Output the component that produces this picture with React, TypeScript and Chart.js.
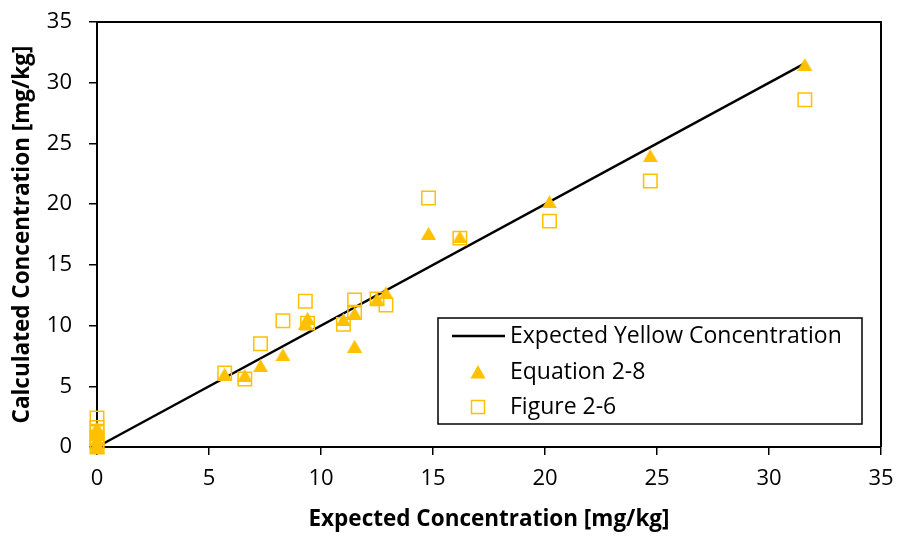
import React, { useEffect, useRef } from 'react';
import { Chart, registerables } from 'chart.js';

Chart.register(...registerables);

// ---- data ----
const expectedX = [0, 0, 0, 0, 0, 0, 5.7, 6.6, 7.3, 8.3, 9.3, 9.4, 11.0, 11.5, 11.5, 12.5, 12.9, 14.8, 16.2, 20.2, 24.7, 31.6];
const equation28 = [0.0, 0.3, 0.6, 1.0, 1.3, 1.6, 6.0, 5.9, 6.7, 7.6, 10.2, 10.6, 10.5, 11.0, 8.3, 12.2, 12.7, 17.6, 17.3, 20.2, 24.0, 31.5];
const figure26 = [0.0, 0.4, 0.8, 1.2, 1.6, 2.4, 6.1, 5.6, 8.5, 10.4, 12.0, 10.2, 10.1, 12.1, 11.1, 12.2, 11.7, 20.5, 17.2, 18.6, 21.9, 28.6];
const expectedLineX = [0, 31.6];
const expectedLineY = [0, 31.6];
const axisTicks = [0, 5, 10, 15, 20, 25, 30, 35];
const seriesNames = ['Expected Yellow Concentration', 'Equation 2-8', 'Figure 2-6'];
const xTitle = 'Expected Concentration [mg/kg]';
const yTitle = 'Calculated Concentration [mg/kg]';

const YELLOW = '#FFC000';
const FONT = "'Open Sans', sans-serif";

function makeTriangle(color: string, w = 15, h = 13) {
  const c = document.createElement('canvas');
  c.width = w;
  c.height = h;
  const ctx = c.getContext('2d')!;
  ctx.fillStyle = color;
  ctx.beginPath();
  ctx.moveTo(w / 2, 0);
  ctx.lineTo(w, h);
  ctx.lineTo(0, h);
  ctx.closePath();
  ctx.fill();
  return c;
}

const frameLegendPlugin = {
  id: 'frameLegend',
  afterDraw(chart: any) {
    const { ctx, chartArea } = chart;
    ctx.save();
    // top & right frame lines
    ctx.strokeStyle = '#000';
    ctx.lineWidth = 2;
    ctx.beginPath();
    ctx.moveTo(chartArea.left, chartArea.top);
    ctx.lineTo(chartArea.right, chartArea.top);
    ctx.lineTo(chartArea.right, chartArea.bottom);
    ctx.stroke();

    // legend box
    const bx = 438, by = 318, bw = 424, bh = 106;
    ctx.fillStyle = '#fff';
    ctx.fillRect(bx, by, bw, bh);
    ctx.lineWidth = 1.5;
    ctx.strokeStyle = '#000';
    ctx.strokeRect(bx, by, bw, bh);

    const rows = [336, 372, 407];
    const symX = 478;
    const textX = 510;
    // line sample
    ctx.lineWidth = 2.5;
    ctx.beginPath();
    ctx.moveTo(452, rows[0]);
    ctx.lineTo(505, rows[0]);
    ctx.stroke();
    // triangle sample
    ctx.fillStyle = YELLOW;
    ctx.beginPath();
    ctx.moveTo(symX, rows[1] - 7);
    ctx.lineTo(symX + 7.5, rows[1] + 6.5);
    ctx.lineTo(symX - 7.5, rows[1] + 6.5);
    ctx.closePath();
    ctx.fill();
    // square sample
    ctx.strokeStyle = YELLOW;
    ctx.lineWidth = 1.5;
    ctx.strokeRect(symX - 6.5, rows[2] - 6.5, 13, 13);

    ctx.fillStyle = '#000';
    ctx.font = `23px ${FONT}`;
    ctx.textBaseline = 'middle';
    ctx.textAlign = 'left';
    seriesNames.forEach((n, i) => ctx.fillText(n, textX, rows[i]));
    ctx.restore();
  },
};

export default function App() {
  const ref = useRef<HTMLCanvasElement>(null);

  useEffect(() => {
    const tri = makeTriangle(YELLOW);
    const axisCommon = (title: string, isX: boolean) => ({
      type: 'linear' as const,
      min: 0,
      max: 35,
      afterBuildTicks: (scale: any) => {
        scale.ticks = axisTicks.map((v) => ({ value: v }));
      },
      afterFit: (scale: any) => {
        if (isX) {
          scale.height = 89;
          scale.paddingLeft = 8;
          scale.paddingRight = 8;
        } else {
          scale.width = 97;
          scale.paddingTop = 8;
          scale.paddingBottom = 8;
        }
      },
      grid: {
        drawOnChartArea: false,
        drawTicks: true,
        tickLength: 8,
        color: '#000',
        lineWidth: 1.5,
      },
      border: { display: true, color: '#000', width: 2 },
      ticks: {
        color: '#000',
        font: { family: FONT, size: 22 },
        padding: isX ? 11 : 17,
        maxRotation: 0,
        autoSkip: false,
      },
      title: {
        display: true,
        text: title,
        color: '#000',
        font: { family: FONT, size: 22.5, weight: 'bold' as const },
        padding: isX ? { top: 0, bottom: 2.5 } : { top: 9, bottom: 0 },
      },
    });

    const chart = new Chart(ref.current!, {
      type: 'scatter',
      data: {
        datasets: [
          {
            label: seriesNames[1],
            data: expectedX.map((x, i) => ({ x, y: equation28[i] })),
            pointStyle: tri as any,
            pointRadius: 7,
            pointHoverRadius: 7,
            backgroundColor: YELLOW,
            borderColor: YELLOW,
            borderWidth: 0,
            clip: false as any,
            order: 0,
          },
          {
            label: seriesNames[2],
            data: expectedX.map((x, i) => ({ x, y: figure26[i] })),
            pointStyle: 'rect',
            pointRadius: 9.5,
            pointHoverRadius: 9.5,
            backgroundColor: 'rgba(0,0,0,0)',
            borderColor: YELLOW,
            borderWidth: 1.5,
            clip: false as any,
            order: 1,
          },
          {
            label: seriesNames[0],
            data: expectedLineX.map((x, i) => ({ x, y: expectedLineY[i] })),
            showLine: true,
            borderColor: '#000',
            borderWidth: 2.5,
            pointRadius: 0,
            pointHoverRadius: 0,
            clip: false as any,
            order: 2,
          },
        ],
      },
      options: {
        responsive: false,
        animation: false,
        devicePixelRatio: 1,
        layout: { padding: { left: 0, right: 17, top: 22, bottom: 0 } },
        plugins: {
          legend: { display: false },
          tooltip: { enabled: false },
        },
        scales: {
          x: axisCommon(xTitle, true),
          y: axisCommon(yTitle, false),
        },
      },
      plugins: [frameLegendPlugin],
    });
    return () => chart.destroy();
  }, []);

  return (
    <div style={{ position: 'absolute', left: 0, top: 0, width: 898, height: 536, background: '#fff' }}>
      <canvas ref={ref} width={898} height={536} style={{ display: 'block' }} />
    </div>
  );
}
